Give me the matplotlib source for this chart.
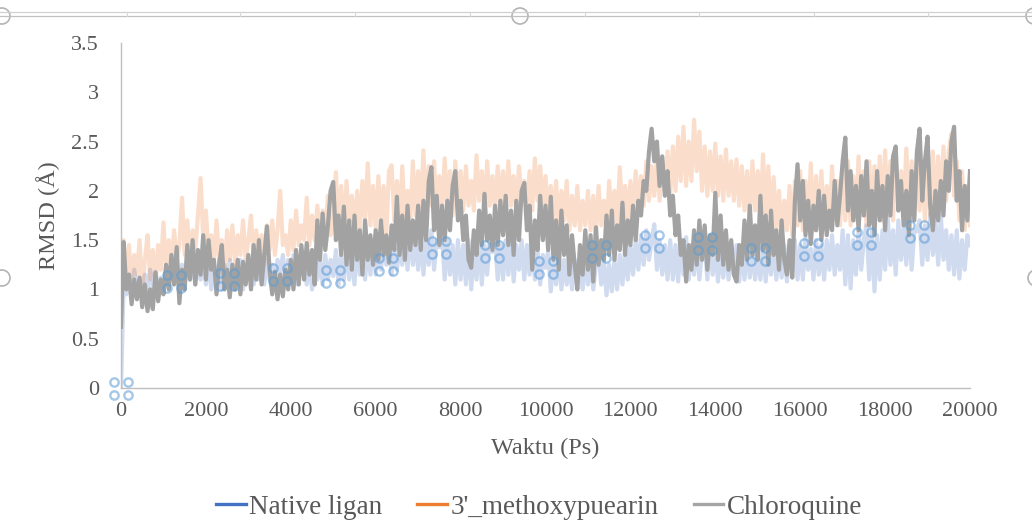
import numpy as np
import matplotlib
matplotlib.use("Agg")
import matplotlib.pyplot as plt
from matplotlib.lines import Line2D
from matplotlib.patches import Circle
from matplotlib.transforms import ScaledTranslation

plt.rcParams['font.family'] = ['Liberation Serif', 'DejaVu Serif']

# Simulation time axis (ps), one frame every 62.5 ps
time_ps = np.arange(321) * 62.5

series_names = ["Native ligan", "3'_methoxypuearin", "Chloroquine"]

native_ligan = [
    0.0, 1.05, 0.95, 1.15, 1.0, 1.2, 0.98, 1.1, 0.95, 1.15, 1.0, 1.2, 1.02, 1.18, 0.98, 1.12,
    1.0, 1.2, 1.05, 1.25, 1.085, 1.3, 1.0, 1.25, 1.05, 1.35, 1.1, 1.3, 1.05, 1.25, 1.1, 1.35,
    1.05, 1.3, 1.0, 1.25, 1.1, 1.3, 1.0, 1.25, 1.105, 1.3, 1.0, 1.2, 1.05, 1.3, 1.0, 1.25,
    1.1, 1.3, 1.05, 1.25, 1.1, 1.35, 1.05, 1.3, 1.1, 1.25, 1.05, 1.3, 1.156, 1.35, 1.05, 1.3,
    1.1, 1.35, 1.05, 1.3, 1.15, 1.35, 1.05, 1.3, 1.0, 1.35, 1.1, 1.3, 1.05, 1.35, 1.1, 1.3,
    1.136, 1.4, 1.05, 1.35, 1.1, 1.45, 1.1, 1.35, 1.05, 1.5, 1.15, 1.4, 1.1, 1.45, 1.15, 1.5,
    1.15, 1.45, 1.2, 1.5, 1.25, 1.45, 1.15, 1.5, 1.2, 1.45, 1.25, 1.55, 1.2, 1.62, 1.25, 1.5,
    1.2, 1.55, 1.15, 1.5, 1.25, 1.6, 1.2, 1.5, 1.43, 1.55, 1.1, 1.5, 1.15, 1.45, 1.05, 1.5,
    1.1, 1.45, 1.05, 1.5, 1.0, 1.4, 1.1, 1.5, 1.05, 1.45, 1.15, 1.5, 1.38, 1.5, 1.1, 1.45,
    1.1, 1.5, 1.15, 1.53, 1.08, 1.45, 1.2, 1.5, 1.1, 1.45, 1.15, 1.5, 1.1, 1.4, 1.05, 1.35,
    1.22, 1.39, 0.98, 1.3, 1.05, 1.35, 1.0, 1.3, 1.05, 1.25, 1.0, 1.3, 1.05, 1.25, 1.0, 1.3,
    1.05, 1.3, 1.0, 1.25, 1.38, 1.05, 1.3, 0.94, 1.25, 0.98, 1.3, 1.0, 1.35, 1.05, 1.4, 1.1,
    1.45, 1.15, 1.5, 1.2, 1.55, 1.25, 1.6, 1.3, 1.49, 1.66, 1.2, 1.5, 1.15, 1.45, 1.1, 1.5,
    1.1, 1.45, 1.08, 1.5, 1.15, 1.53, 1.1, 1.45, 1.15, 1.5, 1.1, 1.4, 1.47, 1.1, 1.5, 1.15,
    1.45, 1.08, 1.4, 1.12, 1.46, 1.1, 1.4, 1.15, 1.45, 1.08, 1.4, 1.1, 1.45, 1.12, 1.4, 1.1,
    1.35, 1.1, 1.45, 1.08, 1.4, 1.15, 1.46, 1.1, 1.4, 1.12, 1.45, 1.08, 1.4, 1.15, 1.5, 1.1,
    1.45, 1.1, 1.53, 1.2, 1.41, 1.1, 1.5, 1.15, 1.45, 1.1, 1.5, 1.2, 1.55, 1.15, 1.45, 1.2,
    1.6, 1.05, 1.55, 1.01, 1.5, 1.15, 1.6, 1.2, 1.52, 1.65, 1.1, 1.6, 0.98, 1.55, 1.1, 1.6,
    1.2, 1.73, 1.25, 1.6, 1.15, 1.7, 1.3, 1.65, 1.25, 1.7, 1.2, 1.6, 1.59, 1.7, 1.25, 1.65,
    1.3, 1.77, 1.35, 1.7, 1.25, 1.75, 1.3, 1.6, 1.2, 1.55, 1.15, 1.6, 1.11, 1.5, 1.2, 1.55,
    1.45,
]

methoxypuearin = [
    0.8, 1.5, 1.1, 1.45, 1.05, 1.35, 1.15, 1.5, 1.0, 1.3, 1.55, 1.1, 1.4, 1.05, 1.45, 1.2,
    1.68, 1.2, 1.5, 1.25, 1.6, 1.3, 1.45, 1.93, 1.35, 1.7, 1.3, 1.6, 1.4, 1.75, 2.13, 1.5,
    1.8, 1.35, 1.55, 1.25, 1.7, 1.3, 1.5, 1.2, 1.6, 1.3, 1.65, 1.25, 1.55, 1.35, 1.7, 1.3,
    1.5, 1.75, 1.3, 1.6, 1.35, 1.55, 1.25, 1.65, 1.4, 1.7, 1.35, 1.6, 2.0, 1.45, 1.55, 1.35,
    1.7, 1.4, 1.8, 1.45, 1.65, 1.5, 1.93, 1.45, 1.75, 1.5, 1.85, 1.55, 1.8, 1.6, 1.95, 1.55,
    1.75, 2.19, 1.6, 2.05, 1.55, 2.1, 1.65, 1.95, 1.55, 2.0, 1.6, 2.1, 1.7, 2.28, 1.65, 2.05,
    1.6, 2.15, 1.65, 2.05, 1.55, 2.2, 2.26, 1.7, 2.1, 1.6, 2.25, 1.7, 2.0, 1.65, 2.3, 1.75,
    2.2, 1.8, 2.41, 1.75, 2.25, 1.85, 2.3, 1.75, 2.15, 1.8, 2.33, 1.85, 2.2, 1.75, 2.3, 1.9,
    2.2, 1.8, 2.25, 1.85, 2.1, 1.8, 2.36, 1.9, 2.2, 1.75, 2.3, 1.85, 2.15, 1.8, 2.25, 1.85,
    2.2, 1.8, 2.3, 1.85, 2.15, 1.8, 2.25, 1.9, 2.1, 1.85, 2.2, 1.8, 2.33, 1.9, 2.25, 1.85,
    2.15, 1.75, 2.05, 1.7, 2.1, 1.65, 2.0, 1.7, 2.1, 1.6, 1.95, 1.65, 2.05, 1.6, 1.9, 1.65,
    2.0, 1.6, 1.95, 1.55, 2.05, 1.65, 1.9, 1.6, 2.1, 1.7, 2.0, 1.65, 2.24, 1.75, 2.05, 1.7,
    2.1, 1.75, 2.2, 1.8, 2.15, 1.85, 2.3, 1.9, 2.25, 1.95, 2.35, 1.9, 2.3, 2.0, 2.4, 1.95,
    2.45, 2.0, 2.55, 2.1, 2.65, 2.05, 2.5, 2.1, 2.72, 2.2, 2.6, 2.0, 2.45, 1.95, 2.4, 2.0,
    2.48, 1.95, 2.35, 1.9, 2.42, 1.95, 2.3, 1.9, 2.32, 1.85, 2.25, 1.8, 2.2, 1.75, 2.3, 1.8,
    2.2, 1.75, 2.37, 1.7, 2.25, 1.65, 2.14, 1.6, 2.0, 1.55, 1.9, 1.6, 2.05, 1.55, 2.1, 1.65,
    2.2, 1.6, 2.1, 1.65, 2.28, 1.6, 2.15, 1.7, 2.2, 1.6, 2.05, 1.65, 2.25, 1.7, 2.1, 1.65,
    2.2, 1.7, 2.3, 1.65, 2.15, 1.7, 2.35, 1.75, 2.2, 1.65, 2.3, 1.7, 2.25, 1.75, 2.35, 1.7,
    2.41, 1.75, 2.3, 1.7, 2.35, 1.8, 2.2, 1.75, 2.43, 1.8, 2.3, 1.75, 2.35, 1.8, 2.25, 1.7,
    2.3, 1.75, 2.4, 1.8, 2.35, 1.85, 2.45, 1.9, 2.4, 2.58, 1.95, 2.3, 1.7, 2.2, 1.6, 2.05,
    1.65,
]

chloroquine = [
    0.62, 1.48, 1.0, 1.15, 0.85, 1.1, 0.9, 1.12, 0.82, 1.05, 0.78, 1.0, 0.8, 1.17, 0.88, 1.1,
    0.95, 1.25, 1.0, 1.35, 1.05, 1.43, 0.86, 1.2, 1.0, 1.45, 1.1, 1.5, 1.05, 1.4, 1.15, 1.55,
    1.1, 1.5, 1.2, 1.3, 0.95, 1.25, 1.45, 1.0, 1.2, 0.92, 1.25, 1.0, 1.3, 0.95, 1.28, 1.05,
    1.35, 1.0, 1.45, 1.1, 1.5, 1.05, 1.35, 1.64, 1.2, 0.95, 1.18, 0.9, 1.15, 0.93, 1.2, 1.0,
    1.3, 1.0, 1.4, 1.05, 1.45, 1.1, 1.47, 1.15, 1.4, 1.05, 1.7, 1.3, 1.77, 1.4, 1.65, 2.0,
    2.09, 1.5, 1.75, 1.35, 1.84, 1.25, 1.7, 1.2, 1.75, 1.3, 1.6, 1.15, 1.7, 1.3, 1.55, 1.25,
    1.6, 1.3, 1.7, 1.35, 1.55, 1.27, 1.65, 1.4, 1.94, 1.35, 1.75, 1.3, 1.85, 1.4, 1.7, 1.45,
    1.85, 1.4, 1.9, 1.5, 2.1, 2.24, 1.6, 1.95, 1.45, 1.85, 1.5, 1.9, 1.6, 2.05, 2.2, 1.7,
    1.9, 1.5, 1.75, 1.3, 1.22, 1.6, 1.35, 1.8, 1.45, 1.97, 1.5, 1.75, 1.4, 1.85, 1.45, 1.9,
    1.55, 1.95, 1.45, 1.8, 1.35, 1.9, 1.5, 2.0, 2.08, 1.6, 1.85, 1.2, 1.7, 1.4, 1.95, 1.5,
    1.85, 1.4, 1.94, 1.3, 1.7, 1.2, 1.8, 1.35, 1.65, 1.15, 1.55, 1.25, 1.0, 1.45, 1.15, 1.6,
    1.2, 1.55, 1.08, 1.63, 1.25, 1.5, 1.3, 1.75, 1.35, 1.8, 1.3, 1.65, 1.4, 1.88, 1.35, 1.7,
    1.45, 1.85, 1.5, 1.9, 1.75, 2.1, 2.0, 2.4, 2.63, 2.3, 2.5, 2.05, 2.35, 1.95, 2.2, 1.75,
    1.95, 1.55, 1.75, 1.35, 1.5, 1.08, 1.45, 1.2, 1.6, 1.25, 1.7, 1.3, 1.65, 1.2, 1.55, 1.35,
    1.98, 1.3, 1.75, 1.25, 1.6, 1.2, 1.5, 1.15, 1.08, 1.45, 1.25, 1.7, 1.3, 1.85, 1.35, 1.65,
    1.3, 1.95, 1.4, 1.75, 1.25, 1.8, 1.35, 1.6, 1.2, 1.7, 1.3, 1.15, 1.5, 1.12, 1.9, 2.27,
    1.7, 2.1, 1.55, 1.9, 1.46, 1.85, 1.6, 2.0, 1.5, 1.95, 1.55, 1.8, 1.6, 2.1, 1.65, 1.95,
    2.3, 2.54, 1.8, 2.2, 1.7, 2.05, 1.6, 2.15, 1.75, 2.3, 1.65, 2.0, 1.55, 2.2, 1.7, 2.05,
    1.6, 2.15, 1.75, 2.35, 2.45, 1.8, 2.1, 1.65, 2.0, 1.55, 2.2, 1.7, 2.4, 2.63, 1.9, 2.3,
    2.55, 1.85, 1.6, 2.0, 1.7, 2.1, 1.75, 2.3, 2.0, 2.5, 2.65, 1.9, 2.2, 1.6, 2.05, 1.7,
    2.2,
]

y_ticks = [0, 0.5, 1, 1.5, 2, 2.5, 3, 3.5]
y_tick_labels = ["0", "0.5", "1", "1.5", "2", "2.5", "3", "3.5"]
x_ticks = list(range(0, 20001, 2000))

full_colors = ["#4472c4", "#ed7d31", "#a5a5a5"]
text_color = "#595959"
axis_color = "#bfbfbf"

W, H = 1032, 520
fig = plt.figure(figsize=(W / 100, H / 100), dpi=100)
fig.patch.set_facecolor("white")

ax = fig.add_axes([121 / W, 1 - 388 / H, (970 - 121) / W, (388 - 43) / H])
ax.set_xlim(0, 20000)
ax.set_ylim(0, 3.5)

# Two faded series underneath, chloroquine solid on top
ax.plot(time_ps, native_ligan, color=full_colors[0], alpha=0.25, lw=3.0, zorder=2)
ax.plot(time_ps, methoxypuearin, color=full_colors[1], alpha=0.25, lw=3.0, zorder=3)
ax.plot(time_ps, chloroquine, color="#a2a2a2", lw=3.0, zorder=4)

# Selection handles on every twentieth native-ligan frame (2x2 ring clusters)
sel_x = time_ps[:301:20]
sel_y = np.array(native_ligan)[:301:20]
for dx, dy in [(-7, 6.5), (7, 6.5), (-7, -6.5), (7, -6.5)]:
    off = ScaledTranslation(dx / 100, dy / 100, fig.dpi_scale_trans)
    ax.plot(sel_x, sel_y, linestyle="none", marker="o", markersize=6.0,
            markerfacecolor="none", markeredgecolor="#5b9bd5",
            markeredgewidth=1.7, alpha=0.55, transform=ax.transData + off,
            clip_on=False, zorder=6)

for side in ["top", "right"]:
    ax.spines[side].set_visible(False)
for side in ["left", "bottom"]:
    ax.spines[side].set_color(axis_color)
    ax.spines[side].set_linewidth(1.0)

ax.set_yticks(y_ticks)
ax.set_yticklabels(y_tick_labels)
ax.set_xticks(x_ticks)
ax.tick_params(axis="both", length=0, labelsize=16, colors=text_color)
ax.tick_params(axis="y", pad=16)
ax.tick_params(axis="x", pad=10)

ax.set_ylabel("RMSD (Å)", fontsize=17.5, color=text_color, labelpad=8)
ax.set_xlabel("Waktu (Ps)", fontsize=17.5, color=text_color, labelpad=12)

handles = [Line2D([0], [0], color=c, lw=2.4) for c in full_colors]
fig.legend(handles, series_names, loc="center", bbox_to_anchor=(539 / W, 1 - 507 / H),
           ncol=3, frameon=False, fontsize=19.5, labelcolor=text_color,
           handlelength=1.1, handletextpad=0.12, columnspacing=1.3)

# Chart frame edge and resize handles
deco = fig.add_axes([0, 0, 1, 1], zorder=10)
deco.set_xlim(0, W)
deco.set_ylim(H, 0)
deco.axis("off")
deco.patch.set_alpha(0)
deco.plot([0, W], [12, 12], color="#d0d0d0", lw=0.9)
deco.plot([0, W], [16, 16], color="#c0c0c0", lw=0.9)
for sx in [127, 240, 355, 470, 585, 699, 814, 928]:
    deco.plot([sx, sx], [12, 16], color="#d8d8d8", lw=0.8)
for cx, cy in [(520, 16), (2, 16), (1034, 16), (2, 278), (1036, 278)]:
    deco.add_patch(Circle((cx, cy), 8, facecolor="white", edgecolor="#b4b4b4", lw=1.2))

fig.savefig("out.png", dpi=100, facecolor="white")
